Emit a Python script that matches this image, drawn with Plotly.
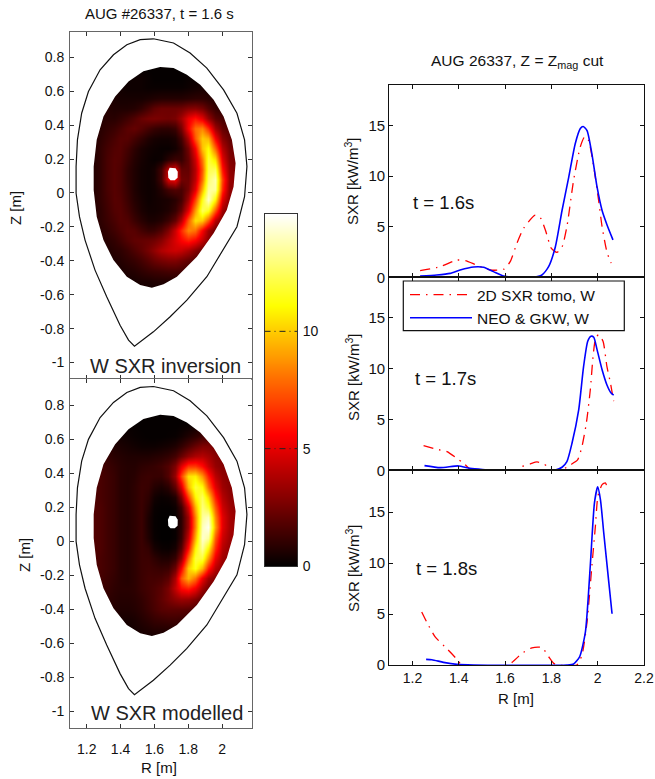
import plotly.graph_objects as go

# ---------- 2D maps ----------
map_R = [1.24, 1.28, 1.32, 1.36, 1.40, 1.44, 1.48, 1.52, 1.56, 1.60, 1.64, 1.68, 1.72, 1.76, 1.80, 1.84, 1.88, 1.92, 1.96, 2.00, 2.04, 2.08]
map_Z = [0.74, 0.68, 0.62, 0.56, 0.50, 0.44, 0.38, 0.32, 0.26, 0.20, 0.14, 0.08, 0.02, -0.04, -0.10, -0.16, -0.22, -0.28, -0.34, -0.40, -0.46, -0.52, -0.58]

sxr_inversion = [
    [.2, .2, .2, .2, .2, .2, .2, .2, .1, .1, .1, .1, .1, .1, .1, .2, .2, .2, .2, .2, .2, .2],
    [.3, .3, .3, .3, .3, .3, .3, .3, .2, .1, .1, .1, .1, .1, .2, .2, .3, .3, .3, .3, .3, .3],
    [.5, .5, .5, .5, .4, .3, .3, .3, .2, .2, .2, .2, .2, .2, .3, .4, .5, .5, .5, .5, .5, .5],
    [.7, .7, .7, .6, .5, .5, .5, .5, .6, .7, .8, .8, .8, .8, .9, 1, 1, .9, .8, .7, .7, .7],
    [.8, .8, .8, .7, .7, .7, .8, 1.1, 1.6, 2.1, 2.4, 2.4, 2.4, 2.5, 2.9, 3, 2.6, 1.8, 1.2, 1, 1, 1],
    [.8, .8, .9, .9, 1.1, 1.4, 1.8, 2.3, 2.6, 2.7, 2.6, 2.5, 2.7, 3.6, 5.2, 6, 5, 3.3, 2, 1.6, 1.4, 1.4],
    [.8, .9, 1.1, 1.3, 1.6, 2.0, 2.2, 1.9, 1.5, 1.2, 1.0, 1.0, 1.3, 2.6, 5.5, 8, 8.5, 6.5, 3.5, 2.2, 1.8, 1.8],
    [.8, 1, 1.3, 1.6, 1.9, 1.9, 1.5, 1.1, .7, .5, .4, .4, .6, 1.5, 3.8, 7.5, 10, 9.5, 5.5, 3, 2.2, 2],
    [.8, 1.1, 1.5, 1.8, 1.9, 1.5, 1, .6, .4, .3, .2, .2, .4, 1, 2.6, 5.5, 9.8, 11.2, 7.8, 4, 2.6, 2.4],
    [.8, 1.1, 1.6, 1.9, 1.8, 1.3, .8, .5, .3, .2, .3, .9, 1.3, 1.2, 2.2, 4.5, 8.2, 12, 10.5, 5, 2.9, 2.6],
    [.8, 1.1, 1.6, 1.9, 1.7, 1.1, .7, .4, .3, .5, 1.5, 4.2, 4.8, 2.2, 2.2, 4, 7.5, 12.3, 12.5, 6, 3.2, 2.8],
    [.8, 1.1, 1.6, 1.9, 1.7, 1.1, .7, .4, .3, .5, 1.5, 4.8, 5.3, 2.5, 2.4, 4.2, 8, 12.8, 13.8, 7, 3.4, 3],
    [.8, 1.1, 1.6, 1.9, 1.7, 1.2, .7, .4, .3, .4, .8, 1.5, 1.8, 1.6, 2.6, 5, 9.5, 13.5, 13.5, 6.5, 3.2, 3],
    [.8, 1.1, 1.5, 1.9, 1.8, 1.3, .8, .5, .3, .4, .5, .6, .9, 1.5, 3.5, 7, 11.5, 14.2, 11, 5, 3, 3],
    [.8, 1, 1.4, 1.8, 1.9, 1.5, 1, .6, .4, .4, .5, .7, 1.2, 2.3, 5, 9, 12.5, 11.5, 7.5, 3.5, 2.5, 2.5],
    [.8, 1, 1.3, 1.6, 1.9, 1.8, 1.3, .9, .6, .6, .8, 1.3, 2.2, 4, 7.5, 10.5, 10, 7.5, 4, 2.6, 2.5, 2.5],
    [.7, .9, 1.1, 1.4, 1.7, 2, 1.9, 1.5, 1.2, 1.3, 1.8, 2.8, 4.5, 6.5, 8.5, 8, 5.5, 3.5, 2.3, 2.3, 2.3, 2.3],
    [.7, .8, .9, 1.1, 1.4, 1.8, 2.1, 2.2, 2.3, 2.5, 3, 3.9, 4.8, 5.6, 6.2, 5.5, 4.2, 3, 2.2, 2, 2, 2],
    [.6, .7, .7, .9, 1, 1.3, 1.7, 2.1, 2.6, 3.2, 3.9, 4.3, 4.5, 4.3, 3.7, 2.9, 2.2, 1.7, 1.5, 1.5, 1.5, 1.5],
    [.5, .6, .6, .7, .8, 1, 1.2, 1.5, 1.9, 2.3, 2.6, 2.8, 2.8, 2.5, 2.1, 1.7, 1.4, 1.2, 1.2, 1.2, 1.2, 1.2],
    [.5, .5, .5, .5, .6, .7, .8, 1.0, 1.2, 1.3, 1.4, 1.5, 1.5, 1.4, 1.2, 1.0, .9, .9, .9, .9, .9, .9],
    [.4, .4, .4, .4, .4, .5, .5, .6, .6, .7, .7, .7, .7, .7, .6, .6, .6, .6, .6, .6, .6, .6],
    [.4, .4, .4, .4, .4, .4, .4, .4, .4, .4, .4, .4, .4, .4, .4, .4, .4, .4, .4, .4, .4, .4],
]

sxr_modelled = [
    [.1, .1, .1, .1, .1, .1, .1, .1, .1, .1, .1, .1, .1, .1, .1, .1, .1, .1, .1, .1, .1, .1],
    [.2, .2, .2, .2, .2, .2, .15, .1, .1, .1, .1, .1, .1, .15, .2, .3, .4, .4, .4, .4, .4, .4],
    [.6, .6, .6, .5, .4, .3, .2, .15, .1, .1, .1, .15, .2, .4, .7, 1, 1.4, 1.5, 1.5, 1.5, 1.5, 1.5],
    [1, 1, .9, .7, .6, .5, .4, .3, .3, .3, .4, .5, .7, 1.1, 1.7, 2.3, 2.8, 2.8, 2.5, 2.3, 2.3, 2.3],
    [1.3, 1.3, 1.1, .9, .8, .7, .7, .7, .7, .8, .9, 1.1, 1.5, 2.3, 3.2, 3.8, 4, 3.6, 3, 2.8, 2.8, 2.8],
    [1.5, 1.5, 1.3, 1.1, .9, .8, .8, 1, 1.1, 1.2, 1.4, 1.8, 2.8, 5, 6.8, 6.8, 5.8, 4.4, 3.3, 2.9, 2.9, 2.9],
    [1.6, 1.6, 1.4, 1.2, .9, .8, .9, 1.2, 1.3, 1.2, 1.2, 1.8, 3.4, 7, 10.5, 10.8, 8.8, 6.2, 4.1, 3.2, 2.9, 2.9],
    [1.7, 1.6, 1.4, 1.2, .9, .8, 1, 1.3, 1.2, .8, .6, .9, 2.1, 4.8, 9.5, 12, 11.2, 7.8, 5, 3.5, 3, 2.9],
    [1.7, 1.6, 1.4, 1.2, .9, .8, 1, 1.3, 1, .4, .2, .3, .7, 2.8, 7, 11, 12.5, 10.2, 6.2, 4, 3.2, 3],
    [1.8, 1.7, 1.4, 1.2, .9, .8, 1, 1.3, .8, .2, .1, .1, .3, 1.4, 4.6, 9.5, 13, 11.8, 7.5, 4.5, 3.5, 3.1],
    [1.8, 1.7, 1.4, 1.2, .9, .8, 1, 1.3, .6, .15, .05, .05, .2, 1, 3.5, 8.5, 13.5, 14, 8.5, 5, 3.7, 3.3],
    [1.8, 1.7, 1.4, 1.2, .9, .8, 1, 1.3, .6, .15, .05, .05, .2, 1, 3.5, 8.5, 14, 14.8, 9, 5, 3.7, 3.3],
    [1.8, 1.7, 1.4, 1.2, .9, .8, 1, 1.3, .7, .2, .05, .05, .2, 1.2, 4.4, 9.5, 14.3, 13.5, 7.5, 4.5, 3.5, 3.2],
    [1.7, 1.7, 1.4, 1.2, .9, .8, 1, 1.3, 1.1, .5, .25, .2, .5, 1.9, 5.8, 11, 13.5, 11, 6.5, 4, 3.2, 3],
    [1.7, 1.6, 1.4, 1.2, .9, .8, 1, 1.3, 1.3, 1, .7, .7, 1.2, 3.2, 8, 12, 12, 8.8, 5.2, 3.5, 3, 2.9],
    [1.6, 1.6, 1.4, 1.2, .9, .8, 1, 1.3, 1.4, 1.3, 1.2, 1.3, 2.4, 5.5, 10, 11.5, 9.5, 6.2, 4, 3.1, 2.8, 2.8],
    [1.5, 1.5, 1.3, 1.1, .9, .8, 1, 1.3, 1.5, 1.5, 1.6, 2, 3.8, 7.5, 9.5, 8, 5.2, 3.5, 2.8, 2.5, 2.5, 2.5],
    [1.3, 1.3, 1.2, 1, .9, .9, 1, 1.3, 1.5, 1.7, 2, 2.7, 4.3, 5.8, 6.3, 5.3, 3.5, 2.5, 2.2, 2.2, 2.2, 2.2],
    [1.1, 1.1, 1, .9, .8, .8, .9, 1.1, 1.4, 1.7, 2.1, 2.6, 3.1, 3.4, 3.3, 2.8, 2.1, 1.8, 1.7, 1.7, 1.7, 1.7],
    [.9, .9, .9, .8, .7, .7, .8, 1, 1.3, 1.6, 1.9, 2, 2, 2, 1.9, 1.6, 1.4, 1.3, 1.3, 1.3, 1.3, 1.3],
    [.7, .7, .7, .6, .5, .5, .6, .8, 1, 1.2, 1.3, 1.4, 1.4, 1.3, 1.2, 1.1, 1, 1, 1, 1, 1, 1],
    [.5, .5, .5, .5, .4, .4, .5, .6, .7, .8, .8, .8, .8, .8, .7, .7, .7, .7, .7, .7, .7, .7],
    [.4, .4, .4, .4, .4, .4, .4, .4, .4, .4, .4, .4, .4, .4, .4, .4, .4, .4, .4, .4, .4, .4],
]

# ---------- outlines ----------
vessel_R = [1.594, 1.516, 1.437, 1.358, 1.279, 1.21, 1.17, 1.145, 1.137, 1.137, 1.157, 1.19, 1.249, 1.318, 1.397, 1.447, 1.482, 1.516, 1.594, 1.693, 1.792, 1.91, 1.992, 2.088, 2.133, 2.147, 2.133, 2.088, 2.009, 1.91, 1.811, 1.713, 1.594]
vessel_Z = [.909, .904, .874, .815, .726, .598, .47, .313, .156, -.002, -.14, -.278, -.455, -.612, -.78, -.868, -.904, -.878, -.819, -.73, -.632, -.494, -.356, -.199, -.022, .156, .313, .47, .608, .736, .825, .884, .909]

edge_R = [1.634, 1.713, 1.792, 1.871, 1.95, 2.009, 2.058, 2.08, 2.068, 2.028, 1.95, 1.851, 1.733, 1.654, 1.585, 1.516, 1.437, 1.358, 1.299, 1.259, 1.241, 1.241, 1.259, 1.299, 1.368, 1.447, 1.535, 1.634]
edge_Z = [.742, .736, .697, .638, .549, .451, .313, .175, .037, -.1, -.238, -.376, -.494, -.539, -.559, -.543, -.494, -.396, -.278, -.14, .018, .156, .313, .451, .569, .657, .717, .742]

hole_R = [1.69, 1.725, 1.738, 1.737, 1.72, 1.695, 1.682, 1.68, 1.69]
hole_Z = [.148, .145, .125, .09, .075, .075, .09, .125, .148]

# ---------- midplane cuts ----------
tomo16_R = [1.233, 1.32, 1.392, 1.428, 1.478, 1.536, 1.594, 1.622, 1.651, 1.68, 1.73, 1.752, 1.774, 1.8, 1.824, 1.846, 1.867, 1.896, 1.925, 1.944, 1.96, 1.983, 2.004, 2.019, 2.04, 2.058]
tomo16_S = [.66, 1.05, 1.7, 1.65, 1.2, .72, .79, 1.55, 3.35, 4.84, 6.15, 5.9, 4.67, 2.86, 2.47, 3.0, 5, 9.6, 12.9, 13.9, 13.55, 10.9, 7.6, 5, 2.5, 1.4]
model16_R = [1.233, 1.305, 1.363, 1.406, 1.464, 1.507, 1.55, 1.594, 1.637, 1.723, 1.759, 1.788, 1.817, 1.846, 1.875, 1.903, 1.925, 1.937, 1.954, 1.975, 1.997, 2.019, 2.04, 2.066]
model16_S = [.13, .23, .39, .72, 1.02, .99, .56, .13, 0, 0, .23, 1.05, 3, 6.6, 9.9, 13.2, 14.7, 14.9, 14.5, 12.2, 8.95, 6.6, 5.2, 3.7]

tomo17_R = [1.248, 1.305, 1.349, 1.392, 1.42, 1.449, 1.47, 1.65, 1.673, 1.709, 1.738, 1.767, 1.788, 1.803, 1.825, 1.846, 1.882, 1.913, 1.932, 1.951, 1.968, 1.98, 1.991, 2.004, 2.023, 2.04, 2.055, 2.069]
tomo17_S = [2.43, 2.07, 1.84, 1.18, .69, .1, -.3, -.2, .36, .63, .82, .63, .3, .03, -.2, .03, .53, 1.02, 2.34, 4.64, 7.9, 11.2, 13, 13.35, 12.7, 10.2, 8.6, 6.8]
model17_R = [1.252, 1.32, 1.399, 1.442, 1.493, 1.536, 1.788, 1.817, 1.846, 1.867, 1.889, 1.918, 1.939, 1.957, 1.971, 1.983, 1.997, 2.019, 2.04, 2.058, 2.069]
model17_S = [.46, .26, .43, .23, .1, 0, 0, .03, .3, .85, 2.66, 5.95, 10.2, 12.7, 13.2, 13.1, 11.9, 9.9, 8.4, 7.6, 7.4]

tomo18_R = [1.24, 1.262, 1.298, 1.348, 1.395, 1.413, 1.608, 1.63, 1.673, 1.716, 1.759, 1.788, 1.81, 1.83, 1.91, 1.932, 1.954, 1.975, 1.99, 2.001, 2.019, 2.033, 2.045]
tomo18_S = [5.2, 4.2, 2.76, 1.62, .49, 0, 0, .26, 1.14, 1.69, 1.72, .81, .16, 0, 0, .97, 4.2, 9.74, 13.6, 16.56, 17.7, 17.86, 17.1]
model18_R = [1.259, 1.284, 1.334, 1.392, 1.464, 1.867, 1.896, 1.922, 1.947, 1.968, 1.986, 2.0, 2.012, 2.026, 2.048, 2.062]
model18_S = [.55, .52, .26, .06, 0, 0, .1, .81, 3.25, 9.74, 15.9, 17.47, 16.2, 13, 8.1, 5.03]

colorbar_levels = [0, 1, 2, 3, 4, 5, 6, 7, 8, 9, 10, 11, 12, 13, 14, 15]
colorbar_marks = [5, 10]

time_labels = ["t = 1.6s", "t = 1.7s", "t = 1.8s"]

# ---------- layout helpers ----------
W, H = 655, 779
FONT = "Liberation Sans, Arial, sans-serif"
HOT = [[0, "#000000"], [5.6 / 15, "#ff0000"], [11.1 / 15, "#ffff00"], [1, "#ffffff"]]
RED_DASH = "10px,6px,1.5px,6px"


def dx(a, b):
    return [a / W, b / W]


def dy(top, bottom):
    return [1 - bottom / H, 1 - top / H]


fig = go.Figure()

LEFT_X = [1.101, 2.174]
panels_left = [("x", "y", "W SXR inversion", sxr_inversion), ("x2", "y2", "W SXR modelled", sxr_modelled)]
for xa, ya, _, grid in panels_left:
    fig.add_trace(go.Heatmap(x=map_R, y=map_Z, z=grid, zmin=0, zmax=15, colorscale=HOT, zsmooth="best",
                             showscale=False, xaxis=xa, yaxis=ya, hoverinfo="skip"))
    cover_R = [LEFT_X[0], LEFT_X[1], LEFT_X[1], LEFT_X[0], LEFT_X[0]] + edge_R + [LEFT_X[0]]
    cover_Z = [-1.1, -1.1, 0.96, 0.96, -1.1] + edge_Z + [-1.1]
    fig.add_trace(go.Scatter(x=cover_R, y=cover_Z, mode="lines", fill="toself", fillcolor="white",
                             line=dict(width=0, color="white"), showlegend=False, xaxis=xa, yaxis=ya, hoverinfo="skip"))
    fig.add_trace(go.Scatter(x=hole_R, y=hole_Z, mode="lines", fill="toself", fillcolor="white",
                             line=dict(width=0, color="white"), showlegend=False, xaxis=xa, yaxis=ya, hoverinfo="skip"))
    fig.add_trace(go.Scatter(x=vessel_R, y=vessel_Z, mode="lines", line=dict(color="#111111", width=1.2),
                             showlegend=False, xaxis=xa, yaxis=ya, hoverinfo="skip"))

fig.add_trace(go.Heatmap(x=[0, 1], y=colorbar_levels, z=[[v, v] for v in colorbar_levels], zmin=0, zmax=15,
                         colorscale=HOT, zsmooth="best", showscale=False, xaxis="x3", yaxis="y3", hoverinfo="skip"))
for m in colorbar_marks:
    fig.add_trace(go.Scatter(x=[0, 1], y=[m, m], mode="lines", line=dict(color="#222222", width=1, dash="6px,4px,1px,4px"),
                             showlegend=False, xaxis="x3", yaxis="y3", hoverinfo="skip"))

cuts = [
    ("x4", "y4", tomo16_R, tomo16_S, model16_R, model16_S, False),
    ("x5", "y5", tomo17_R, tomo17_S, model17_R, model17_S, True),
    ("x6", "y6", tomo18_R, tomo18_S, model18_R, model18_S, False),
]
for xa, ya, tr, ts, mr, ms, leg in cuts:
    fig.add_trace(go.Scatter(x=tr, y=ts, mode="lines", name="2D SXR tomo, W", showlegend=leg,
                             line=dict(color="#ff0000", width=1.3, dash=RED_DASH, shape="spline", smoothing=0.6),
                             xaxis=xa, yaxis=ya))
    fig.add_trace(go.Scatter(x=mr, y=ms, mode="lines", name="NEO & GKW, W", showlegend=leg,
                             line=dict(color="#0000ff", width=1.6, shape="spline", smoothing=0.6),
                             xaxis=xa, yaxis=ya))

tick_font = dict(family=FONT, size=14, color="#111111")
right_font = dict(family=FONT, size=15, color="#111111")


def left_x(domain, labels):
    return dict(domain=domain, range=LEFT_X, tickvals=[1.2, 1.4, 1.6, 1.8, 2], ticktext=["1.2", "1.4", "1.6", "1.8", "2"],
                showticklabels=labels, ticks="inside", ticklen=4, tickcolor="#333333", showline=True, linecolor="#666666",
                linewidth=1, mirror="ticks", showgrid=False, zeroline=False, tickfont=tick_font, ticklabelstandoff=8,
                automargin=False)


def left_y(domain, rng):
    return dict(domain=domain, range=rng, tickvals=[0.8, 0.6, 0.4, 0.2, 0, -0.2, -0.4, -0.6, -0.8, -1],
                ticktext=["0.8", "0.6", "0.4", "0.2", "0", "-0.2", "-0.4", "-0.6", "-0.8", "-1"],
                ticks="inside", ticklen=4, tickcolor="#333333", showline=True, linecolor="#666666", linewidth=1,
                mirror="ticks", showgrid=False, zeroline=False, tickfont=tick_font, ticklabelstandoff=2, automargin=False)


def right_x(domain, labels):
    return dict(domain=domain, range=[1.1, 2.2], tickvals=[1.2, 1.4, 1.6, 1.8, 2, 2.2], ticktext=["1.2", "1.4", "1.6", "1.8", "2", "2.2"],
                showticklabels=labels, ticks="inside", ticklen=4, tickcolor="#111111", showline=True, linecolor="#111111",
                linewidth=1.2, mirror="ticks", showgrid=False, zeroline=False, tickfont=tick_font, automargin=False)


def right_y(domain, top):
    return dict(domain=domain, range=[0, top], tickvals=[0, 5, 10, 15], ticks="inside", ticklen=4, tickcolor="#111111",
                showline=True, linecolor="#111111", linewidth=1.2, mirror="ticks", showgrid=False, zeroline=False,
                tickfont=right_font, automargin=False)


fig.update_layout(
    template="none",
    width=W, height=H, margin=dict(l=0, r=0, t=0, b=0), autosize=False,
    paper_bgcolor="white", plot_bgcolor="white", font=dict(family=FONT, color="#111111"),
    xaxis=dict(left_x(dx(70, 251.5), False), anchor="y"),
    yaxis=dict(left_y(dy(32, 379), [-1.097, 0.949]), anchor="x"),
    xaxis2=dict(left_x(dx(70, 251.5), True), anchor="y2"),
    yaxis2=dict(left_y(dy(379, 728), [-1.1, 0.953]), anchor="x2"),
    xaxis3=dict(domain=dx(264.5, 297), range=[0, 1], anchor="y3", showticklabels=False, ticks="", showline=True,
                linecolor="#333333", mirror=True, showgrid=False, zeroline=False, automargin=False),
    yaxis3=dict(domain=dy(214, 566), range=[0, 15], anchor="x3", side="right", tickvals=[0, 5, 10], ticks="",
                showline=True, linecolor="#333333", mirror=True, showgrid=False, zeroline=False, automargin=False,
                ticklabelstandoff=2, tickfont=dict(family=FONT, size=14, color="#111111")),
    xaxis4=dict(right_x(dx(389.3, 644), False), anchor="y4"),
    yaxis4=dict(right_y(dy(85, 277.3), 19), anchor="x4"),
    xaxis5=dict(right_x(dx(389.3, 644), False), anchor="y5"),
    yaxis5=dict(right_y(dy(277.3, 470.3), 19), anchor="x5"),
    xaxis6=dict(right_x(dx(389.3, 644), True), anchor="y6"),
    yaxis6=dict(right_y(dy(470.3, 665), 19.1), anchor="x6"),
    # the legend box itself is a shape so that it keeps the reference's exact size
    shapes=[dict(type="rect", xref="paper", yref="paper", x0=403.3 / W, x1=624.3 / W, y0=1 - 330.7 / H, y1=1 - 281 / H,
                 fillcolor="white", line=dict(color="#111111", width=1.2), layer="above")],
    legend=dict(x=405 / W, y=1 - 278 / H, xanchor="left", yanchor="top", bgcolor="rgba(0,0,0,0)",
                borderwidth=0, font=dict(family=FONT, size=15.5, color="#111111"), itemwidth=62, tracegroupgap=0),
)


def label(text, px, py, size=15, angle=0, xanchor="center", color="#111111"):
    fig.add_annotation(text=text, x=px / W, y=1 - py / H, xref="paper", yref="paper", showarrow=False, textangle=angle,
                       xanchor=xanchor, yanchor="middle", font=dict(family=FONT, size=size, color=color))


label("AUG #26337, t = 1.6 s", 159, 14)
label("AUG 26337, Z = Z<sub>mag</sub> cut", 517, 61, 15.5)
label("Z [m]", 15, 208, 15, -90)
label("Z [m]", 24, 555, 15, -90)
label("R [m]", 159, 767, 15)
label("R [m]", 516, 698, 15)
label("W SXR inversion", 165.5, 366, 20, color="#222222")
label("W SXR modelled", 166.5, 713, 20, color="#222222")
for py in (181, 377, 568):
    label("SXR [kW/m<sup>3</sup>]", 352, py, 15, -90)
for txt, px, py in zip(time_labels, (444, 445, 446.5), (202, 378, 568)):
    label(txt, px, py, 18.5)

fig.write_html(
    "out.html",
    config={"displayModeBar": False, "responsive": False},
    default_width="655px",
    default_height="779px",
    post_script="document.documentElement.style.overflow='hidden';document.body.style.margin='0';document.body.style.overflow='hidden';",
)
